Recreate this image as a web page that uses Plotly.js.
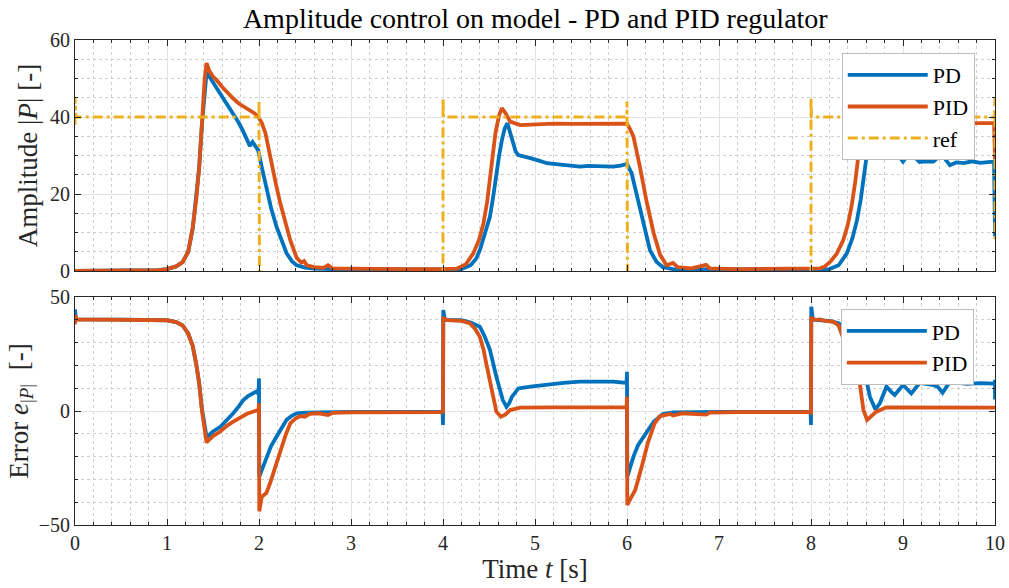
<!DOCTYPE html>
<html>
<head>
<meta charset="utf-8">
<script src="https://cdn.plot.ly/plotly-3.0.1.min.js"></script>
<style>html,body{margin:0;padding:0;background:#fff;}#chart{width:1009px;height:588px;}</style>
</head>
<body>
<div id="chart"></div>
<script>
// ---- Amplitude |P| (top) ----
const tPD = [0,0.5,0.9,1.0,1.1,1.17,1.23,1.28,1.32,1.35,1.38,1.41,1.43,1.46,1.5,1.54,1.6,1.66,1.72,1.78,1.83,1.87,1.9,1.93,1.96,1.99,2.03,2.08,2.13,2.19,2.25,2.3,2.36,2.41,2.5,2.6,2.8,3.0,3.5,3.99,4.1,4.2,4.3,4.36,4.4,4.45,4.51,4.55,4.58,4.61,4.64,4.67,4.7,4.73,4.76,4.79,4.82,4.88,4.95,5.05,5.13,5.2,5.31,5.4,5.49,5.58,5.67,5.76,5.85,5.93,6.0,6.05,6.11,6.18,6.25,6.32,6.39,6.5,6.7,7.0,7.5,8.0,8.2,8.3,8.39,8.45,8.5,8.54,8.57,8.6,8.62,8.65,8.68,8.7,8.75,8.82,8.87,8.91,8.95,9.0,9.05,9.09,9.13,9.18,9.25,9.33,9.38,9.42,9.46,9.51,9.58,9.66,9.75,9.84,9.92,9.99,10.0];
const ampPD = [0,0,0.2,0.5,1.2,2.3,5,11,19,27,38,48,51.5,50.5,49,47.8,45.5,43,41,38.5,36.2,34,32.5,33.5,32.5,31.4,27,21.9,16.5,11.5,7.5,4.6,2.5,1.5,0.9,0.6,0.5,0.4,0.4,0.4,0.4,0.5,1.5,3.2,5.4,9,14.1,20,25.4,30,34,37,38.4,36,33.2,31,30.1,29.8,29.3,28.6,28,27.8,27.5,27.1,27.1,27.3,27.2,27.1,27.1,27.4,27.8,25.4,19.3,11.5,5.4,2.4,1.0,0.5,0.4,0.4,0.4,0.4,0.5,1.5,4.6,8.5,13.2,18.5,23.6,29,34,37.5,38.5,35,31.5,30.1,31.5,32.3,30,28.4,30,31.4,29.5,28.3,28.5,28.4,29.5,31,29,27.5,28.2,28,28.5,28.1,28.3,28.4,9];
const tPID = [0,0.5,0.9,1.0,1.1,1.17,1.23,1.28,1.32,1.35,1.38,1.41,1.43,1.46,1.5,1.54,1.6,1.66,1.72,1.78,1.84,1.9,1.95,1.99,2.03,2.07,2.12,2.18,2.23,2.29,2.34,2.41,2.46,2.49,2.52,2.6,2.7,2.75,2.8,3.0,3.2,3.4,3.6,3.99,4.1,4.15,4.25,4.33,4.39,4.44,4.48,4.51,4.54,4.57,4.61,4.64,4.68,4.73,4.84,5.0,5.2,5.4,5.6,5.8,6.0,6.03,6.07,6.14,6.21,6.29,6.36,6.43,6.5,6.55,6.7,6.86,6.9,7.2,7.5,8.0,8.1,8.15,8.21,8.28,8.35,8.4,8.44,8.48,8.51,8.54,8.57,8.6,8.63,8.68,8.75,9.0,9.3,9.6,9.99,10.0];
const ampPID = [0,0,0.2,0.5,1.2,2.3,5,11.4,19,27,39,50,54,52,50.5,49.6,47.8,46.2,44.8,43.5,42.6,41.8,41,40.1,38.5,35.8,29.7,23,17.7,12,8,3.4,2.2,2.6,1.5,1.0,0.8,1.5,0.7,0.6,0.5,0.6,0.5,0.5,0.5,0.6,1.8,4.6,8,12.4,18,23.6,30,35.8,40.5,42.3,41,38.8,37.9,38.1,38.3,38.2,38.3,38.4,38.3,37,34.9,27.1,18.4,9.8,4.2,1.5,2.1,1.0,0.7,1.6,0.7,0.5,0.5,0.5,0.7,1.2,2.4,4.5,8,12,16.7,23,29.7,34.9,39.5,42,41.5,39,38.2,38.4,38.5,38.4,38.4,29];
const tRef = [0,0,0.01,2,2,2.005,4,4,4.005,6,6,6.005,8,8,8.005,9.995,10,10];
const refVal = [38,45,40,40,44,-0.5,-0.5,45,40,40,44,-0.5,-0.5,45,40,40,45,8];

// ---- Error e_|P| (bottom) ----
const tErrPD = [0,0.01,0.5,1.0,1.1,1.17,1.23,1.28,1.32,1.35,1.38,1.41,1.43,1.46,1.5,1.58,1.65,1.72,1.78,1.83,1.88,1.94,1.97,1.995,2.0,2.003,2.08,2.13,2.19,2.25,2.3,2.36,2.41,2.5,2.7,3.0,3.5,3.995,4.0,4.003,4.02,4.2,4.3,4.4,4.45,4.51,4.58,4.62,4.65,4.69,4.72,4.75,4.82,4.95,5.13,5.31,5.49,5.67,5.85,5.995,6.0,6.003,6.07,6.12,6.18,6.24,6.29,6.39,6.5,7.0,7.995,8.0,8.003,8.02,8.2,8.3,8.4,8.5,8.55,8.59,8.64,8.7,8.75,8.82,8.87,8.91,9.0,9.09,9.18,9.33,9.38,9.43,9.51,9.69,9.84,9.995,10.0,10.0];
const errPD = [44.5,40.2,40.1,39.8,39,37.5,34,28.5,20,12,1,-8,-11.3,-10.5,-9,-6.9,-4,-1,2,4.8,6.5,7.9,8.5,7.5,14.3,-28.8,-20,-15.5,-11.3,-7,-3.9,-2,-1,-0.7,-0.5,-0.4,-0.4,-0.4,-6.1,44.3,40,39.8,38.8,37,33,26.8,15,9,4.8,1.9,3.5,6.3,9.9,10.7,11.7,12.3,12.9,12.8,12.9,12.3,17.2,-28.8,-20,-15,-11.3,-7.5,-4.7,-1.3,-0.6,-0.4,-0.4,-6.1,45.7,40,39.5,38.5,35.4,26.8,21,16,6.3,0.7,3.5,10.7,8.5,7,11.4,7.7,12.3,11.4,10.5,8,12.9,11.9,12.2,12,13.6,5];
const tErrPID = [0,0.003,0.02,0.5,1.0,1.1,1.17,1.23,1.28,1.32,1.35,1.38,1.41,1.43,1.46,1.5,1.58,1.65,1.72,1.8,1.87,1.94,1.995,2.0,2.003,2.03,2.08,2.12,2.18,2.23,2.29,2.34,2.4,2.45,2.5,2.55,2.65,2.75,2.8,3.0,3.5,3.995,4.0,4.003,4.05,4.2,4.29,4.35,4.4,4.44,4.47,4.53,4.58,4.63,4.68,4.73,4.84,5.2,5.6,5.995,6.0,6.003,6.04,6.09,6.16,6.23,6.3,6.36,6.47,6.5,6.6,6.86,6.9,7.2,7.995,8.0,8.003,8.05,8.1,8.15,8.24,8.3,8.35,8.4,8.44,8.51,8.57,8.61,8.71,8.82,9.0,9.5,10.0];
const errPID = [38,42,40.2,40.1,39.8,39,37.5,34,28.5,20,12,0,-10,-13.8,-12.5,-11,-9,-6.5,-4.7,-2.8,-1.2,-0.2,0.4,3.4,-44,-37.6,-36,-31.7,-24,-17.1,-10.5,-5.4,-3.2,-2.2,-2.5,-1.3,-1,-1.8,-0.8,-0.6,-0.5,-0.5,-1,40.6,39.9,39.5,38.5,36,32.6,27,20.9,9.2,-0.3,-2.5,-1.5,0.4,1.5,1.6,1.6,1.6,6.3,-41.2,-38.3,-34.6,-24.4,-13.5,-5.4,-2.2,-1.3,-2,-1,-1.6,-0.7,-0.5,-0.5,-0.6,40.6,40,40.2,39.5,39.2,37.5,32,27,22,18,0.4,-3.9,-0.3,1.6,1.6,1.6,1.5];

const cPD = '#0072BD', cPID = '#D95319', cRef = '#EDB120';
const FONT = "'Liberation Serif', 'DejaVu Serif', serif";

const traces = [
  {x: tPD, y: ampPD, name: 'PD', type: 'scatter', mode: 'lines', line: {color: cPD, width: 3.8}, xaxis: 'x', yaxis: 'y', legend: 'legend'},
  {x: tPID, y: ampPID, name: 'PID', type: 'scatter', mode: 'lines', line: {color: cPID, width: 3.8}, xaxis: 'x', yaxis: 'y', legend: 'legend'},
  {x: tRef, y: refVal, name: 'ref', type: 'scatter', mode: 'lines', line: {color: cRef, width: 3, dash: '10px,4px,3px,4px'}, xaxis: 'x', yaxis: 'y', legend: 'legend'},
  {x: tErrPD, y: errPD, name: 'PD', type: 'scatter', mode: 'lines', line: {color: cPD, width: 3.8}, xaxis: 'x2', yaxis: 'y2', legend: 'legend2'},
  {x: tErrPID, y: errPID, name: 'PID', type: 'scatter', mode: 'lines', line: {color: cPID, width: 3.8}, xaxis: 'x2', yaxis: 'y2', legend: 'legend2'}
];

const minorCommon = {ticks: 'inside', ticklen: 3, tickcolor: '#262626', showgrid: true, gridcolor: '#cfcfcf', griddash: 'dot'};
const axCommon = {
  showline: true, linecolor: '#262626', linewidth: 1, mirror: 'ticks',
  ticks: 'inside', ticklen: 6, tickcolor: '#262626', tickwidth: 1,
  showgrid: true, gridcolor: '#e3e3e3', gridwidth: 1, zeroline: false, automargin: false,
  tickfont: {family: FONT, size: 20, color: '#262626'}
};
const legCommon = {
  bgcolor: '#ffffff', bordercolor: '#bdbdbd', borderwidth: 1,
  font: {family: FONT, size: 22, color: '#000'},
  xanchor: 'right', yanchor: 'top', itemwidth: 80, tracegroupgap: 0
};

const layout = {
  width: 1009, height: 588,
  paper_bgcolor: '#fff', plot_bgcolor: '#fff',
  font: {family: FONT},
  margin: {l: 75, r: 14, t: 40, b: 63},
  title: {text: 'Amplitude control on model - PD and PID regulator', font: {family: FONT, size: 28, color: '#000'}, x: 0.5305, xanchor: 'center', y: 0.969, yanchor: 'middle', automargin: false},
  xaxis: Object.assign({}, axCommon, {domain: [0, 1], anchor: 'y', range: [0, 10], dtick: 1, showticklabels: false, matches: 'x2',
    minor: Object.assign({dtick: 0.2}, minorCommon)}),
  yaxis: Object.assign({}, axCommon, {domain: [0.5237, 1], anchor: 'x', range: [0, 60], dtick: 20,
    title: {text: 'Amplitude |<i>P</i>| [-]', font: {family: FONT, size: 27, color: '#262626'}, standoff: 4},
    minor: Object.assign({dtick: 5}, minorCommon)}),
  xaxis2: Object.assign({}, axCommon, {domain: [0, 1], anchor: 'y2', range: [0, 10], dtick: 1,
    title: {text: 'Time <i>t</i> [s]', font: {family: FONT, size: 27, color: '#262626'}, standoff: 2},
    minor: Object.assign({dtick: 0.2}, minorCommon)}),
  yaxis2: Object.assign({}, axCommon, {domain: [0, 0.4701], anchor: 'x2', range: [-50, 50], dtick: 50,
    title: {text: 'Error <i>e</i><sub>|<i>P</i>|</sub>  [-]', font: {family: FONT, size: 27, color: '#262626'}, standoff: 2},
    minor: Object.assign({dtick: 10}, minorCommon)}),
  legend: Object.assign({}, legCommon, {x: 0.978, y: 0.973}),
  legend2: Object.assign({}, legCommon, {x: 0.977, y: 0.445}),
  showlegend: true
};

Plotly.newPlot('chart', traces, layout, {staticPlot: true, displayModeBar: false});
</script>
</body>
</html>
